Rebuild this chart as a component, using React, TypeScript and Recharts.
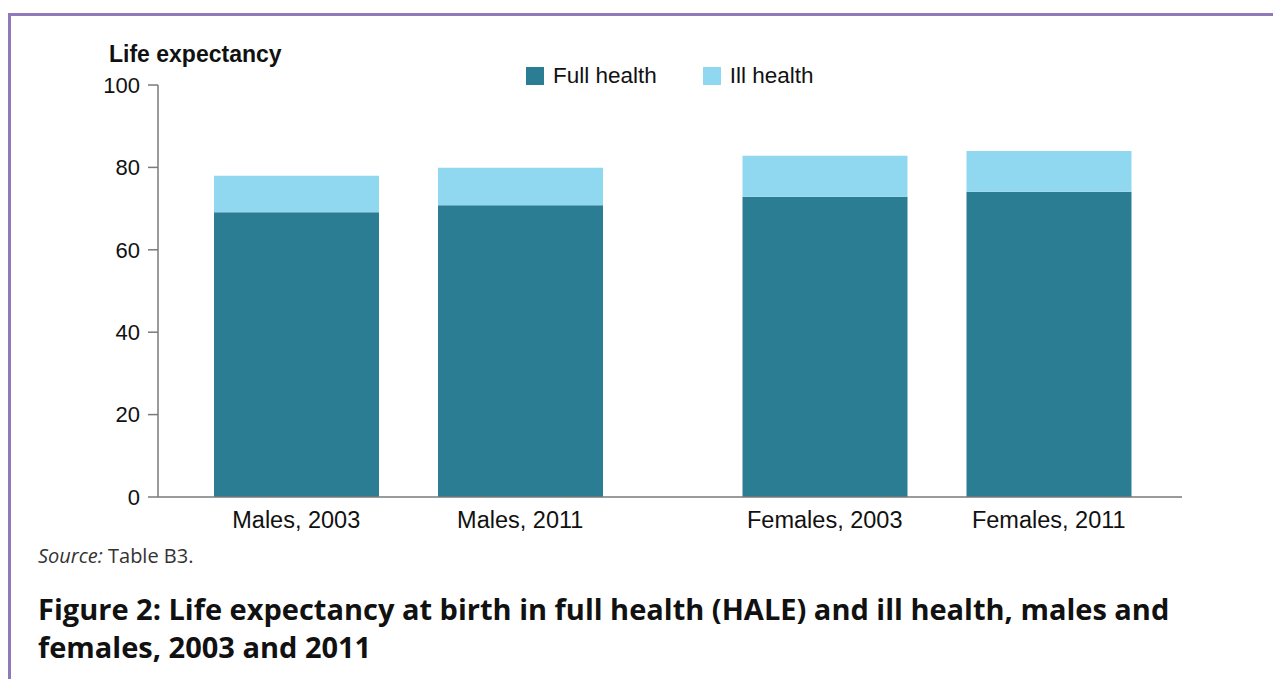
import * as React from "react";
import { BarChart, Bar, XAxis, YAxis, Legend } from "recharts";

// ----- Data (years of life expectancy at birth) -----
const categories = ["Males", "Females"];
const years = ["2003", "2011"];
const fullHealth2003 = [69.1, 72.9];
const illHealth2003 = [8.9, 9.9];
const fullHealth2011 = [70.8, 74.1];
const illHealth2011 = [9.1, 9.9];
const yTicks = [0, 20, 40, 60, 80, 100];

const chartData = categories.map((sex, i) => ({
  sex,
  full2003: fullHealth2003[i],
  ill2003: illHealth2003[i],
  full2011: fullHealth2011[i],
  ill2011: illHealth2011[i],
}));

const FULL = "#2b7d94";
const ILL = "#90d8f0";
const AXIS = "#7a7a7a";
const ARIAL = '"Liberation Sans", Arial, sans-serif';
const OPEN = '"Open Sans", sans-serif';
const BAR_SIZE = 165;
const BAR_GAP = 59;

// two labels per sex, one under each year's bar
function GroupTick(props: any) {
  const { x, y, payload } = props;
  const off = (BAR_SIZE + BAR_GAP) / 2;
  return (
    <g>
      {years.map((yr, i) => (
        <text
          key={yr}
          x={x + (i === 0 ? -off : off)}
          y={y + 31}
          textAnchor="middle"
          fontSize={23.5}
          fontFamily={ARIAL}
          fill="#111"
        >
          {`${payload.value}, ${yr}`}
        </text>
      ))}
    </g>
  );
}

function LegendContent(props: any) {
  const items = (props.payload || []).filter((p: any) => p.type !== "none");
  return (
    <div style={{ display: "flex", alignItems: "center" }}>
      {items.map((p: any) => (
        <div key={p.value} style={{ display: "flex", alignItems: "center", marginRight: 46 }}>
          <span style={{ width: 18, height: 18, background: p.color, display: "inline-block", marginRight: 9 }} />
          <span style={{ fontFamily: ARIAL, fontSize: 22.5, color: "#111", lineHeight: "22px" }}>{p.value}</span>
        </div>
      ))}
    </div>
  );
}

export default function App() {
  return (
    <div style={{ paddingTop: 5 }}>
      <div
        style={{
          position: "relative",
          borderTop: "3px solid #8e79b9",
          borderLeft: "3px solid #8e79b9",
          height: 680,
          width: 1300,
        }}
      >
        <div
          style={{
            position: "absolute",
            left: 98,
            top: 27,
            fontFamily: ARIAL,
            fontWeight: "bold",
            fontSize: 23,
            lineHeight: "22px",
            color: "#111",
          }}
        >
          Life expectancy
        </div>
        <div style={{ position: "absolute", left: 0, top: 0 }}>
          <BarChart
            width={1200}
            height={540}
            data={chartData}
            margin={{ top: 69, right: 29, left: 0, bottom: 29 }}
            barSize={BAR_SIZE}
            barGap={BAR_GAP}
          >
            <XAxis
              dataKey="sex"
              height={30}
              padding={{ left: -14, right: -19 }}
              tickLine={false}
              tickSize={0}
              tickMargin={0}
              stroke={AXIS}
              strokeWidth={1.5}
              tick={<GroupTick />}
              interval={0}
            />
            <YAxis
              width={147}
              domain={[0, 100]}
              ticks={yTicks}
              tickSize={10}
              tickMargin={8}
              stroke={AXIS}
              strokeWidth={1.5}
              tick={{ fontSize: 22, fontFamily: ARIAL, fill: "#111" }}
            />
            <Legend
              verticalAlign="middle"
              align="center"
              content={<LegendContent />}
              wrapperStyle={{ position: "absolute", top: 49, left: 515, width: "auto" }}
            />
            <Bar dataKey="full2003" stackId="y2003" fill={FULL} name="Full health" isAnimationActive={false} />
            <Bar dataKey="ill2003" stackId="y2003" fill={ILL} name="Ill health" isAnimationActive={false} />
            <Bar dataKey="full2011" stackId="y2011" fill={FULL} legendType="none" isAnimationActive={false} />
            <Bar dataKey="ill2011" stackId="y2011" fill={ILL} legendType="none" isAnimationActive={false} />
          </BarChart>
        </div>
        <div
          style={{
            position: "absolute",
            left: 27,
            top: 530,
            fontFamily: OPEN,
            fontSize: 20,
            lineHeight: "20px",
            color: "#333",
          }}
        >
          <i>Source:</i> Table B3.
        </div>
        <div
          style={{
            position: "absolute",
            left: 27,
            top: 574,
            fontFamily: OPEN,
            fontWeight: "bold",
            fontSize: 29,
            lineHeight: "38px",
            color: "#111",
            whiteSpace: "nowrap",
          }}
        >
          Figure 2: Life expectancy at birth in full health (HALE) and ill health, males and
          <br />
          females, 2003 and 2011
        </div>
      </div>
    </div>
  );
}
